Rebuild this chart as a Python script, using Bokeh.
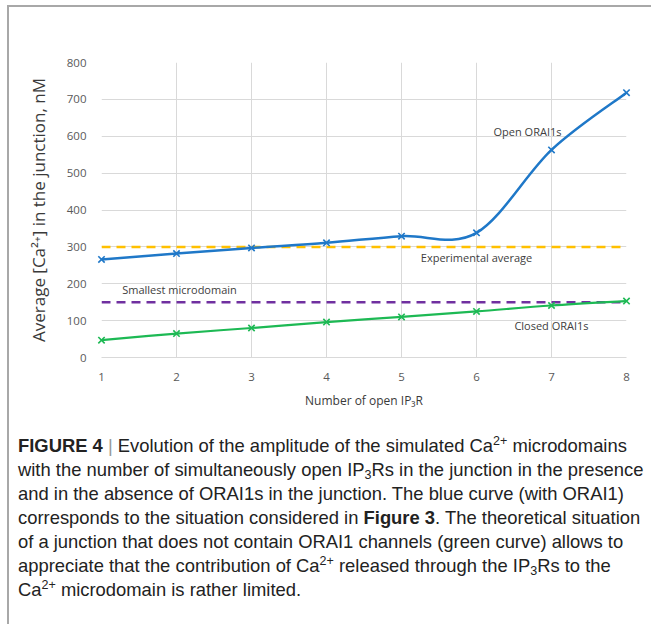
from bokeh.plotting import figure
from bokeh.models import FixedTicker, Div, Label, ColumnDataSource
from bokeh.layouts import column
from bokeh.embed import file_html
from bokeh.resources import INLINE

# Number of simultaneously open IP3Rs
n_ip3r = [1, 2, 3, 4, 5, 6, 7, 8]
# Average [Ca2+] in the junction (nM)
open_orai = [266, 282, 297, 311, 329, 338, 563, 718]
closed_orai = [47, 65, 80, 96, 110, 125, 141, 153]
experimental_avg = 300
smallest_microdomain = 150
y_ticks = [0, 100, 200, 300, 400, 500, 600, 700, 800]

BLUE = "#1f78c8"
GREEN = "#1db954"
ORANGE = "#ffc000"
PURPLE = "#7030a0"
GRID = "#d9d9d9"
FONT = "Open Sans"


def smooth_segments(xs, ys, k=1.0 / 6.0):
    """Catmull-Rom style smoothing expressed as cubic Bezier segments."""
    pts = list(zip(xs, ys))
    n = len(pts)
    seg = dict(x0=[], y0=[], x1=[], y1=[], cx0=[], cy0=[], cx1=[], cy1=[])
    for i in range(n - 1):
        p0 = pts[max(i - 1, 0)]
        p1 = pts[i]
        p2 = pts[i + 1]
        p3 = pts[min(i + 2, n - 1)]
        seg["x0"].append(p1[0]); seg["y0"].append(p1[1])
        seg["x1"].append(p2[0]); seg["y1"].append(p2[1])
        seg["cx0"].append(p1[0] + (p2[0] - p0[0]) * k)
        seg["cy0"].append(p1[1] + (p2[1] - p0[1]) * k)
        seg["cx1"].append(p2[0] - (p3[0] - p1[0]) * k)
        seg["cy1"].append(p2[1] - (p3[1] - p1[1]) * k)
    return ColumnDataSource(seg)


p = figure(
    width=642, height=410,
    x_range=(n_ip3r[0], n_ip3r[-1]), y_range=(y_ticks[0], y_ticks[-1]),
    output_backend="svg", toolbar_location=None,
    min_border_left=92, min_border_right=25, min_border_top=55, min_border_bottom=60,
)
p.outline_line_color = None
p.background_fill_color = "white"
p.border_fill_color = "white"

# grid
p.xgrid.ticker = FixedTicker(ticks=n_ip3r)
p.ygrid.ticker = FixedTicker(ticks=y_ticks)
p.xgrid.grid_line_color = GRID
p.ygrid.grid_line_color = GRID
p.xgrid.grid_line_width = 1
p.ygrid.grid_line_width = 1

# axes
p.xaxis.ticker = FixedTicker(ticks=n_ip3r)
p.yaxis.ticker = FixedTicker(ticks=y_ticks)
for ax in (p.xaxis, p.yaxis):
    ax.major_tick_line_color = None
    ax.minor_tick_line_color = None
    ax.major_label_text_font = FONT
    ax.major_label_text_font_size = "11.5px"
    ax.major_label_text_color = "#595959"
    ax.major_label_standoff = 9
    ax.axis_label_text_font = FONT
    ax.axis_label_text_font_style = "normal"
    ax.axis_label_text_color = "#3a3a3a"
p.xaxis.axis_line_color = GRID
p.yaxis.axis_line_color = None
p.xaxis.axis_label = "Number of open IP\u2083R"
p.xaxis.axis_label_text_font_size = "12px"
p.xaxis.axis_label_standoff = 8
p.yaxis.axis_label = "Average [Ca\u00b2\u207a] in the junction, nM"
p.yaxis.axis_label_text_font_size = "17px"
p.yaxis.axis_label_standoff = 14

# reference levels
p.line([n_ip3r[0], n_ip3r[-1]], [experimental_avg] * 2, line_color=ORANGE,
       line_width=2.5, line_dash="9 6")
p.line([n_ip3r[0], n_ip3r[-1]], [smallest_microdomain] * 2, line_color=PURPLE,
       line_width=2.5, line_dash="9 6")

# smoothed series
p.bezier(x0="x0", y0="y0", x1="x1", y1="y1", cx0="cx0", cy0="cy0", cx1="cx1", cy1="cy1",
         source=smooth_segments(n_ip3r, closed_orai), line_color=GREEN, line_width=2.2)
p.bezier(x0="x0", y0="y0", x1="x1", y1="y1", cx0="cx0", cy0="cy0", cx1="cx1", cy1="cy1",
         source=smooth_segments(n_ip3r, open_orai), line_color=BLUE, line_width=2.5)

m1 = p.scatter(n_ip3r, closed_orai, marker="x", size=9, line_color=GREEN, line_width=1.6)
m2 = p.scatter(n_ip3r, open_orai, marker="x", size=9, line_color=BLUE, line_width=1.6)
m1.level = "overlay"
m2.level = "overlay"

# annotations
for txt, x, y in [("Open ORAI1s", 6.68, 613), ("Experimental average", 6.0, 270),
                  ("Closed ORAI1s", 7.0, 86), ("Smallest microdomain", 2.04, 184)]:
    p.add_layout(Label(x=x, y=y, text=txt, text_align="center", text_baseline="middle",
                       text_font=FONT, text_font_size="11px", text_color="#404040"))

sup = '<sup style="font-size:0.68em;line-height:0;vertical-align:0.55em">2+</sup>'
sub3 = '<sub style="font-size:0.68em;line-height:0;vertical-align:-0.2em">3</sub>'
caption_lines = [
    f'<b>FIGURE 4</b> <span style="color:#999">|</span> Evolution of the amplitude of the simulated Ca{sup} microdomains',
    f'with the number of simultaneously open IP{sub3}Rs in the junction in the presence',
    'and in the absence of ORAI1s in the junction. The blue curve (with ORAI1)',
    'corresponds to the situation considered in <b>Figure 3</b>. The theoretical situation',
    'of a junction that does not contain ORAI1 channels (green curve) allows to',
    f'appreciate that the contribution of Ca{sup} released through the IP{sub3}Rs to the',
    f'Ca{sup} microdomain is rather limited.',
]
caption = Div(
    text="<br>".join(caption_lines),
    width=632, height=190, margin=(17, 0, 0, 9),
    styles={"font-family": "Liberation Sans, Arial, sans-serif", "font-size": "18.4px",
            "line-height": "24px", "color": "#222", "white-space": "nowrap"},
)

layout = column(
    p, caption, margin=(5, 0, 0, 7), spacing=0,
    styles={"border-top": "2px solid #a8a8a8", "border-left": "2px solid #a8a8a8"},
)

with open("out.html", "w") as f:
    f.write(file_html(layout, INLINE))
